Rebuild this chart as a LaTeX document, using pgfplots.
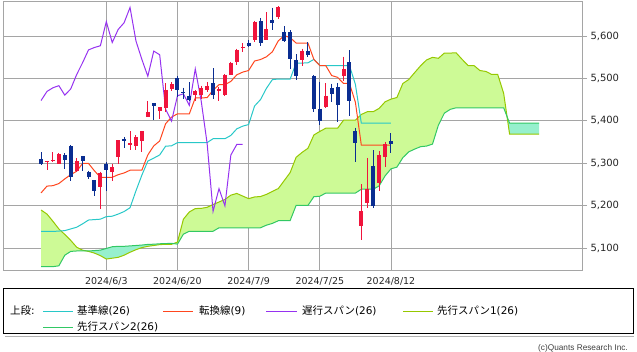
\documentclass[border=0pt]{standalone}
\usepackage{fontspec}
\setmainfont{DejaVu Sans}
\newfontfamily\cjk{Noto Sans CJK JP}
\newfontfamily\arial{Liberation Sans}
\usepackage{pgfplots}
\usepackage{pgfplotstable}
\pgfplotsset{compat=1.18}

\definecolor{cUp}{RGB}{240,20,60}
\definecolor{cDn}{RGB}{10,45,145}
\definecolor{cTen}{RGB}{255,70,30}
\definecolor{cKij}{RGB}{40,200,200}
\definecolor{cChi}{RGB}{150,50,240}
\definecolor{cSA}{RGB}{150,200,0}
\definecolor{cSB}{RGB}{50,200,100}
\definecolor{kG}{RGB}{205,250,150}
\definecolor{kB}{RGB}{150,240,205}
\definecolor{cGrid}{RGB}{165,165,165}

\pgfplotstableread{
x o h l c
-10 5302.0 5305.45 5283.59 5305.0
-9 5305.35 5325.32 5302.40 5308.13
-8 5298.69 5324.32 5297.87 5321.41
-5 5281.45 5311.65 5278.39 5304.72
-1 5243.21 5280.33 5191.68 5277.51
1 5278.24 5298.80 5257.63 5291.34
2 5314.48 5354.16 5297.64 5354.03
4 5343.81 5375.08 5331.33 5346.99
5 5341.22 5365.79 5331.52 5360.79
6 5353.00 5375.95 5327.25 5375.32
7 5409.13 5447.25 5409.13 5421.03
9 5424.08 5432.39 5403.75 5431.60
10 5431.11 5488.50 5420.40 5473.23
11 5476.15 5490.38 5471.32 5487.03
15 5460.73 5472.88 5446.56 5469.30
16 5460.71 5483.14 5451.87 5477.90
17 5473.59 5490.81 5467.54 5482.87
19 5471.08 5479.55 5446.53 5475.09
20 5461.84 5509.69 5458.43 5509.01
21 5507.44 5539.27 5507.42 5537.02
22 5537.91 5570.33 5531.63 5567.19
23 5571.30 5583.11 5562.51 5574.30
25 5591.26 5635.39 5586.44 5633.91
27 5590.76 5655.56 5590.44 5615.35
29 5644.09 5669.67 5639.02 5667.20
33 5544.05 5570.36 5529.04 5564.41
37 5433.67 5488.32 5430.70 5459.10
40 5505.59 5551.51 5493.75 5522.30
43 5151.14 5250.89 5119.26 5186.33
44 5206.42 5312.34 5193.56 5240.03
46 5252.57 5328.03 5233.85 5319.31
47 5314.51 5350.14 5292.10 5344.16
}\UpTab

\pgfplotstableread{
x o h l c
-11 5310.07 5325.49 5296.19 5297.10
-7 5319.28 5323.18 5286.01 5307.01
-6 5340.26 5341.88 5256.93 5267.84
-4 5315.91 5315.91 5280.89 5306.04
-3 5278.73 5282.27 5262.70 5266.95
-2 5259.77 5260.21 5222.10 5235.48
0 5297.15 5302.11 5234.32 5283.40
3 5357.80 5362.35 5335.36 5352.96
8 5441.93 5441.93 5402.51 5433.74
12 5499.99 5505.53 5455.56 5473.17
13 5466.77 5478.31 5452.03 5464.62
14 5459.58 5490.66 5447.59 5447.87
18 5488.48 5523.64 5451.12 5460.48
24 5584.24 5590.75 5574.57 5576.98
26 5635.21 5642.45 5576.53 5584.54
28 5638.16 5666.94 5614.75 5631.22
30 5610.07 5622.49 5584.81 5588.27
31 5608.56 5614.05 5522.81 5544.59
32 5543.37 5557.50 5497.04 5505.00
34 5565.30 5585.34 5550.90 5555.74
35 5505.84 5508.04 5419.98 5427.13
36 5428.70 5491.59 5390.95 5399.22
38 5476.55 5487.74 5444.44 5463.54
39 5478.73 5489.46 5398.23 5436.44
41 5537.84 5566.16 5410.42 5446.68
42 5376.63 5383.89 5302.03 5346.56
45 5293.13 5330.64 5195.54 5199.50
48 5351.63 5371.20 5324.37 5344.39
}\DnTab

\pgfplotstableread{
x y
-11 5230
-10 5246
-9 5247
-8 5252
-7 5263
-6 5273
-5 5281
-4 5299.4
-3 5299.4
-2 5282.0
-1 5266.8
0 5266.8
1 5266.8
2 5272.9
3 5277.0
4 5283.4
5 5283.4
6 5283.8
7 5319.5
8 5340.8
9 5352.4
10 5393.1
11 5408.8
12 5416.4
13 5416.4
14 5416.4
15 5454.0
16 5454.0
17 5454.6
18 5472.0
19 5485.1
20 5485.1
21 5492.9
22 5508.4
23 5514.8
24 5518.6
25 5541.0
26 5544.5
27 5551.0
28 5562.7
29 5588.5
30 5600.7
31 5596.2
32 5583.4
33 5583.4
34 5583.4
35 5544.8
36 5530.3
37 5530.3
38 5506.7
39 5502.5
40 5488.1
41 5488.1
42 5443.7
43 5342.7
44 5342.7
45 5342.7
46 5342.7
47 5342.7
48 5342.7
}\Tenkan

\pgfplotstableread{
x y
-11 5139
-10 5139
-9 5139
-8 5140
-7 5141
-6 5145
-5 5149
-4 5157
-3 5166
-2 5167
-1 5168
0 5174
1 5175
2 5180
3 5186
4 5195
5 5235
6 5272
7 5305
8 5312
9 5319.5
10 5340.1
11 5341.0
12 5348.6
13 5348.6
14 5348.6
15 5348.6
16 5348.6
17 5348.6
18 5357.7
19 5357.7
20 5357.7
21 5365.5
22 5381.0
23 5387.4
24 5391.2
25 5434.9
26 5450.0
27 5476.6
28 5497.1
29 5498.5
30 5498.5
31 5498.5
32 5536.1
33 5536.1
34 5536.7
35 5544.8
36 5530.3
37 5530.3
38 5530.3
39 5530.3
40 5530.3
41 5530.3
42 5485.9
43 5394.5
44 5394.5
45 5394.5
46 5394.5
47 5394.5
48 5394.5
}\Kijun

\pgfplotstableread{
x y
-11 5447.87
-10 5469.30
-9 5477.90
-8 5482.87
-7 5460.48
-6 5475.09
-5 5509.01
-4 5537.02
-3 5567.19
-2 5572.85
-1 5576.98
0 5633.91
1 5584.54
2 5615.35
3 5631.22
4 5667.20
5 5588.27
6 5544.59
7 5505.00
8 5564.41
9 5555.74
10 5427.13
11 5399.22
12 5459.10
13 5463.54
14 5436.44
15 5522.30
16 5446.68
17 5346.56
18 5186.33
19 5240.03
20 5199.50
21 5319.31
22 5344.16
23 5344.39
}\Chikou

\pgfplotstableread{
x y
-11 5189.6
-10 5180
-9 5163
-8 5145
-7 5132
-6 5118
-5 5102
-4 5095
-3 5092
-2 5088
-1 5082
0 5074
1 5076
2 5078
3 5083
4 5090
5 5096
6 5101
7 5104
8 5106
9 5108
10 5108.7
11 5108.7
12 5114
13 5168
14 5185
15 5193
16 5193.5
17 5196
18 5202.5
19 5208.5
20 5214.5
21 5224.7
22 5228.7
23 5222.5
24 5216.4
25 5220.4
26 5221.4
27 5226.5
28 5233.5
29 5240.2
30 5259
31 5278
32 5313.8
33 5325.4
34 5335.2
35 5366.6
36 5374.9
37 5382.5
38 5382.5
39 5382.5
40 5401.3
41 5401.3
42 5401.6
43 5414.9
44 5421.4
45 5421.4
46 5429.2
47 5444.7
48 5451.1
49 5454.9
50 5488.0
51 5497.3
52 5513.8
53 5529.9
54 5543.5
55 5549.6
56 5547.4
57 5559.8
58 5559.8
59 5560.1
60 5544.8
61 5530.3
62 5530.3
63 5518.5
64 5516.4
65 5509.2
66 5509.2
67 5464.8
68 5368.6
69 5368.6
70 5368.6
71 5368.6
72 5368.6
73 5368.6
}\SpanA

\pgfplotstableread{
x y
-11 5056
-10 5056
-9 5056
-8 5058
-7 5083
-6 5092
-5 5093
-4 5093
-3 5093
-2 5094
-1 5095
0 5099
1 5103
2 5104
3 5104
4 5105
5 5106
6 5107
7 5108.5
8 5109
9 5110
10 5110.5
11 5111
12 5109.2
13 5132.7
14 5139.5
15 5139.5
16 5139.5
17 5139.5
18 5139.5
19 5147.7
20 5147.7
21 5147.7
22 5147.7
23 5147.7
24 5147.7
25 5147.7
26 5147.7
27 5153.9
28 5158.0
29 5164.3
30 5164.3
31 5164.8
32 5200.4
33 5200.4
34 5200.4
35 5221.0
36 5222.0
37 5229.5
38 5229.5
39 5229.5
40 5229.5
41 5229.5
42 5229.5
43 5238.6
44 5238.6
45 5238.6
46 5246.4
47 5269.9
48 5286.8
49 5290.7
50 5313.0
51 5326.8
52 5333.3
53 5339.0
54 5340.4
55 5345
56 5390
57 5418
58 5427
59 5430.7
60 5430.7
61 5430.7
62 5430.7
63 5430.7
64 5430.7
65 5430.7
66 5430.7
67 5430.7
68 5394.5
69 5394.5
70 5394.5
71 5394.5
72 5394.5
73 5394.5
}\SpanB

% Kumo polygons: span A forward, span B back (split where the spans cross)
\pgfplotstableread{
x y
-11 5189.6
-10 5180
-9 5163
-8 5145
-7 5132
-6 5118
-5 5102
-4 5095
-3.33 5093
-4 5093
-5 5093
-6 5092
-7 5083
-8 5058
-9 5056
-10 5056
-11 5056
}\KumoOne

\pgfplotstableread{
x y
-3.33 5093
-3 5092
-2 5088
-1 5082
0 5074
1 5076
2 5078
3 5083
4 5090
5 5096
6 5101
7 5104
8 5106
9 5108
10 5108.7
11 5108.7
11.32 5110.4
11 5111
10 5110.5
9 5110
8 5109
7 5108.5
6 5107
5 5106
4 5105
3 5104
2 5104
1 5103
0 5099
-1 5095
-2 5094
-3 5093
}\KumoTwo

\pgfplotstableread{
x y
11.32 5110.4
12 5114
13 5168
14 5185
15 5193
16 5193.5
17 5196
18 5202.5
19 5208.5
20 5214.5
21 5224.7
22 5228.7
23 5222.5
24 5216.4
25 5220.4
26 5221.4
27 5226.5
28 5233.5
29 5240.2
30 5259
31 5278
32 5313.8
33 5325.4
34 5335.2
35 5366.6
36 5374.9
37 5382.5
38 5382.5
39 5382.5
40 5401.3
41 5401.3
42 5401.6
43 5414.9
44 5421.4
45 5421.4
46 5429.2
47 5444.7
48 5451.1
49 5454.9
50 5488.0
51 5497.3
52 5513.8
53 5529.9
54 5543.5
55 5549.6
56 5547.4
57 5559.8
58 5559.8
59 5560.1
60 5544.8
61 5530.3
62 5530.3
63 5518.5
64 5516.4
65 5509.2
66 5509.2
67 5464.8
67.57 5410
67 5430.7
66 5430.7
65 5430.7
64 5430.7
63 5430.7
62 5430.7
61 5430.7
60 5430.7
59 5430.7
58 5427
57 5418
56 5390
55 5345
54 5340.4
53 5339.0
52 5333.3
51 5326.8
50 5313.0
49 5290.7
48 5286.8
47 5269.9
46 5246.4
45 5238.6
44 5238.6
43 5238.6
42 5229.5
41 5229.5
40 5229.5
39 5229.5
38 5229.5
37 5229.5
36 5222.0
35 5221.0
34 5200.4
33 5200.4
32 5200.4
31 5164.8
30 5164.3
29 5164.3
28 5158.0
27 5153.9
26 5147.7
25 5147.7
24 5147.7
23 5147.7
22 5147.7
21 5147.7
20 5147.7
19 5147.7
18 5139.5
17 5139.5
16 5139.5
15 5139.5
14 5139.5
13 5132.7
12 5109.2
}\KumoThree

\pgfplotstableread{
x y
67.57 5410
68 5368.6
73 5368.6
73 5394.5
68 5394.5
}\KumoFour

\begin{document}
\begin{tikzpicture}
\path[use as bounding box] (0,0) rectangle (637bp,-352bp);
\begin{axis}[
  at={(3bp,-1bp)}, anchor=north west,
  scale only axis, width=579bp, height=270bp,
  xmin=-17.42, xmax=80.21, ymin=5045.8, ymax=5682.5,
  axis line style={draw=cGrid, line width=1bp},
  grid=major, grid style={draw=cGrid, line width=0.9bp},
  xtick={0,12,24,36,48},
  xticklabels={2024/6/3,2024/6/20,2024/7/9,2024/7/25,2024/8/12},
  ytick={5100,5200,5300,5400,5500,5600},
  ytick pos=right, yticklabel pos=right, xtick pos=bottom,
  tick align=outside, major tick length=5bp,
  tick style={draw=cGrid, line width=0.9bp},
  xtick style={draw=none},
  /pgf/number format/assume math mode=true,
  /pgf/number format/1000 sep={,},
  yticklabel style={font=\fontsize{10}{12}\selectfont, text=black!85},
  xticklabel style={font=\fontsize{9.5}{11}\selectfont, text=black!85, inner sep=1bp},
]
% Kumo fills
\addplot[fill=kG, draw=none] table[x=x,y=y]{\KumoOne};
\addplot[fill=kB, draw=none] table[x=x,y=y]{\KumoTwo};
\addplot[fill=kG, draw=none] table[x=x,y=y]{\KumoThree};
\addplot[fill=kB, draw=none] table[x=x,y=y]{\KumoFour};
% Kumo lines
\addplot[draw=cSA, line width=1bp] table[x=x,y=y]{\SpanA};
\addplot[draw=cSB, line width=1bp] table[x=x,y=y]{\SpanB};
% Kijun, Tenkan, Chikou
\addplot[draw=cKij, line width=1bp] table[x=x,y=y]{\Kijun};
\addplot[draw=cTen, line width=1bp] table[x=x,y=y]{\Tenkan};
\addplot[draw=cChi, line width=1bp] table[x=x,y=y]{\Chikou};
% Candles: wicks
\addplot[draw=none, mark=none, error bars/.cd, y dir=minus, y explicit, error mark=none,
  error bar style={draw=cUp, line width=1bp}]
  table[x=x, y=h, y error expr=\thisrow{h}-\thisrow{l}]{\UpTab};
\addplot[draw=none, mark=none, error bars/.cd, y dir=minus, y explicit, error mark=none,
  error bar style={draw=cDn, line width=1bp}]
  table[x=x, y=h, y error expr=\thisrow{h}-\thisrow{l}]{\DnTab};
% Candles: bodies
\addplot[draw=none, mark=none, error bars/.cd, y dir=minus, y explicit, error mark=none,
  error bar style={draw=cUp, line width=4bp}]
  table[x=x, y=c, y error expr=\thisrow{c}-\thisrow{o}]{\UpTab};
\addplot[draw=none, mark=none, error bars/.cd, y dir=minus, y explicit, error mark=none,
  error bar style={draw=cDn, line width=4bp}]
  table[x=x, y=o, y error expr=\thisrow{o}-\thisrow{c}]{\DnTab};
\end{axis}
% Legend box
\fill[black!30] (5bp,-335.8bp) rectangle (634bp,-337.2bp);
\draw[draw=black, line width=1bp] (3.5bp,-288.5bp) rectangle (633.5bp,-333.5bp);
\node[anchor=west, inner sep=0pt, font=\fontsize{10.5}{12}\selectfont] at (10bp,-311bp) {{\cjk 上段}:};
\fill[cKij] (43bp,-311bp) rectangle (73bp,-312.2bp);
\node[anchor=west, inner sep=0pt, font=\fontsize{10.5}{12}\selectfont] at (77bp,-311bp) {{\cjk 基準線}(26)};
\fill[cTen] (163bp,-311bp) rectangle (193bp,-312.2bp);
\node[anchor=west, inner sep=0pt, font=\fontsize{10.5}{12}\selectfont] at (199bp,-311bp) {{\cjk 転換線}(9)};
\fill[cChi] (266bp,-311bp) rectangle (297bp,-312.2bp);
\node[anchor=west, inner sep=0pt, font=\fontsize{10.5}{12}\selectfont] at (302bp,-311bp) {{\cjk 遅行スパン}(26)};
\fill[cSA] (403bp,-311bp) rectangle (433bp,-312.2bp);
\node[anchor=west, inner sep=0pt, font=\fontsize{10.5}{12}\selectfont] at (437bp,-311bp) {{\cjk 先行スパン}1(26)};
\fill[cSB] (43bp,-327bp) rectangle (73bp,-328.2bp);
\node[anchor=west, inner sep=0pt, font=\fontsize{10.5}{12}\selectfont] at (77bp,-327bp) {{\cjk 先行スパン}2(26)};
\node[anchor=east, inner sep=0pt, font=\arial\fontsize{8.3}{10}\selectfont, text=black!75] at (628bp,-348.5bp) {(c)Quants Research Inc.};
\end{tikzpicture}
\end{document}
